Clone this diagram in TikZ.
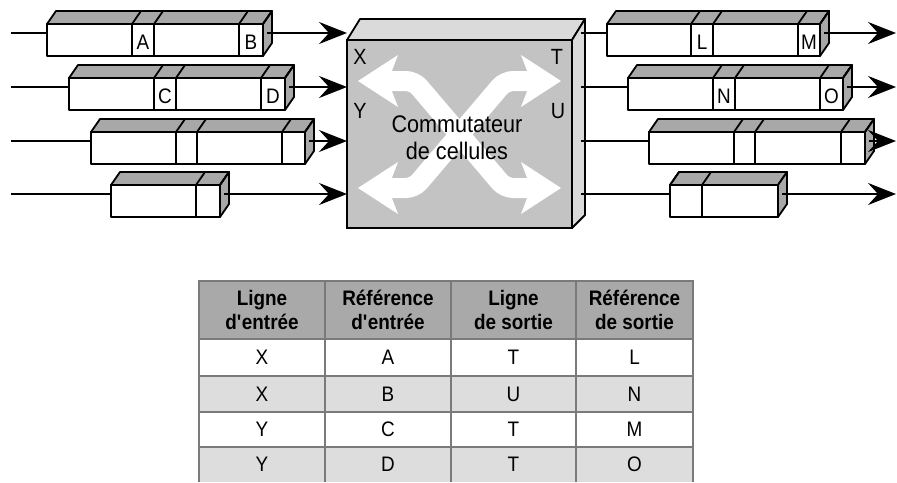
\documentclass[tikz,border=0pt]{standalone}
\usepackage{fontspec}
\setmainfont[FakeStretch=0.9]{Liberation Sans}
\usetikzlibrary{arrows.meta,fit}
\definecolor{qgray}{HTML}{A8A8A8}
\definecolor{swfront}{HTML}{C3C3C3}
\definecolor{swside}{HTML}{DADADA}
\definecolor{hdr}{HTML}{A9A9A9}
\definecolor{rowg}{HTML}{DDDDDD}
\definecolor{gridc}{HTML}{7A7A7A}
\tikzset{
  conn/.style={line width=2pt,-{Stealth[length=28pt,width=22pt,inset=10pt]}},
  plainline/.style={line width=2pt},
  qline/.style={line width=1.8pt,line join=round},
  qlab/.style={font=\fontsize{21}{25}\selectfont,inner sep=0pt},
  swlab/.style={font=\fontsize{22}{26}\selectfont,inner sep=0pt},
  whiteband/.style={white,line width=20pt,rounded corners=8pt},
  whitehead/.style={fill=white,draw=none},
  hdrtext/.style={font=\bfseries\fontsize{21}{24.5}\selectfont,align=center,inner sep=0pt},
  celltext/.style={font=\fontsize{21}{24}\selectfont,inner sep=0pt},
  gridline/.style={gridc,line width=1.3pt},
}
% #1 name, #2 x left, #3 x right, #4 y top, #5 cells a/b/label
\newcommand\queuebox[5]{%
  \filldraw[qline,fill=qgray] (#2,#4) -- (#2+9,#4-13) -- (#3+9,#4-13) -- (#3,#4) -- cycle;
  \filldraw[qline,fill=qgray] (#3,#4) -- (#3+9,#4-13) -- (#3+9,#4+19) -- (#3,#4+32) -- cycle;
  \node[qline,draw,fill=white,inner sep=0pt,fit={(#2,#4) (#3,#4+32)}] (#1) {};
  \foreach \ca/\cb/\ct in {#5}{%
    \draw[qline] (\ca,#4) -- (\ca,#4+32) (\cb,#4) -- (\cb,#4+32)
      (\ca,#4) -- (\ca+9,#4-13) (\cb,#4) -- (\cb+9,#4-13);
    \node[qlab] at ({(\ca+\cb)/2},#4+18) {\ct};
  }
  \coordinate (#1i) at (#2,#4+9);
  \coordinate (#1o) at (#3+4,#4+9);
}
\newcommand\whtip[3]{% tip x, tip y, direction
  \fill[whitehead] (#1,#2) -- (#1+40*#3,#2-26) -- (#1+30*#3,#2) -- (#1+40*#3,#2+26) -- cycle;
}
\begin{document}
\begin{tikzpicture}[x=1pt,y=-1pt]
\useasboundingbox (0,0) rectangle (897,482);

% ---- switch ----
\filldraw[qline,fill=swside] (347,40) -- (360,19) -- (585,19) -- (572,40) -- cycle;
\filldraw[qline,fill=swside] (572,40) -- (585,19) -- (585,215) -- (572,228) -- cycle;
\node[draw,fill=swfront,line width=1.8pt,inner sep=0pt,outer sep=0pt,
  minimum width=225pt,minimum height=188pt] (sw) at (459.5,134) {};
\draw[whiteband] (385,81) -- (414,81) -- (505,188) -- (535,188);
\draw[whiteband] (385,188) -- (414,188) -- (505,81) -- (535,81);
\whtip{358}{81}{1}
\whtip{358}{188}{1}
\whtip{561}{81}{-1}
\whtip{561}{188}{-1}
\node[swlab] (lx) at (360,57) {X};
\node[swlab] (ly) at (360,111) {Y};
\node[swlab] (lt) at (557,57) {T};
\node[swlab] (lu) at (558,111) {U};
\node[font=\fontsize{24}{27}\selectfont,align=center,inner sep=0pt] (swt) at (457,138)
  {Commutateur\\de cellules};

% ---- input queues ----
\queuebox{q1}{47}{263}{24}{132/154/A,239/263/B}
\queuebox{q2}{69}{285}{78}{154/176/C,261/285/D}
\queuebox{q3}{91}{305}{132}{176/197/{},282/305/{}}
\queuebox{q4}{111}{220}{185}{196/220/{}}
\foreach \n/\y in {1/33,2/87,3/141,4/194}{
  \coordinate (in\n) at (11,\y);
  \draw[plainline] (in\n) -- (q\n i);
  \draw[conn] (q\n o) -- (sw.west |- q\n o);
}

% ---- output queues ----
\queuebox{r1}{607}{820}{24}{691/713/L,798/820/M}
\queuebox{r2}{628}{843}{78}{713/735/N,820/843/O}
\queuebox{r3}{649}{865}{132}{734/755/{},841/865/{}}
\queuebox{r4}{670}{778}{185}{670/702/{}}
\foreach \n/\y in {1/33,2/87,3/141,4/194}{
  \coordinate (s\n) at (581,\y);
  \coordinate (out\n) at (896,\y);
  \draw[plainline] (s\n) -- (r\n i);
  \draw[conn] (r\n o) -- (out\n);
}

% ---- table ----
\fill[hdr] (199,281) rectangle (693,339);
\fill[white] (199,339) rectangle (693,376);
\fill[rowg] (199,376) rectangle (693,412);
\fill[white] (199,412) rectangle (693,447);
\fill[rowg] (199,447) rectangle (693,482);
\draw[gridline] (199,482) -- (199,281) -- (693,281) -- (693,482);
\foreach \yy in {339,376,412,447}{\draw[gridline] (199,\yy) -- (693,\yy);}
\foreach \xx in {325,451,576}{\draw[gridline] (\xx,281) -- (\xx,482);}
\node[hdrtext] (h1) at (262,310) {Ligne\\d\textquotesingle entrée};
\node[hdrtext] (h2) at (388,310) {Référence\\d\textquotesingle entrée};
\node[hdrtext] (h3) at (513.5,310) {Ligne\\de sortie};
\node[hdrtext] (h4) at (634.5,310) {Référence\\de sortie};
\foreach \r/\y/\a/\b/\c/\d in {1/357.5/X/A/T/L,2/394/X/B/U/N,3/429.5/Y/C/T/M,4/464.5/Y/D/T/O}{
  \node[celltext] (c\r a) at (262,\y) {\a};
  \node[celltext] (c\r b) at (388,\y) {\b};
  \node[celltext] (c\r c) at (513.5,\y) {\c};
  \node[celltext] (c\r d) at (634.5,\y) {\d};
}
\end{tikzpicture}
\end{document}
